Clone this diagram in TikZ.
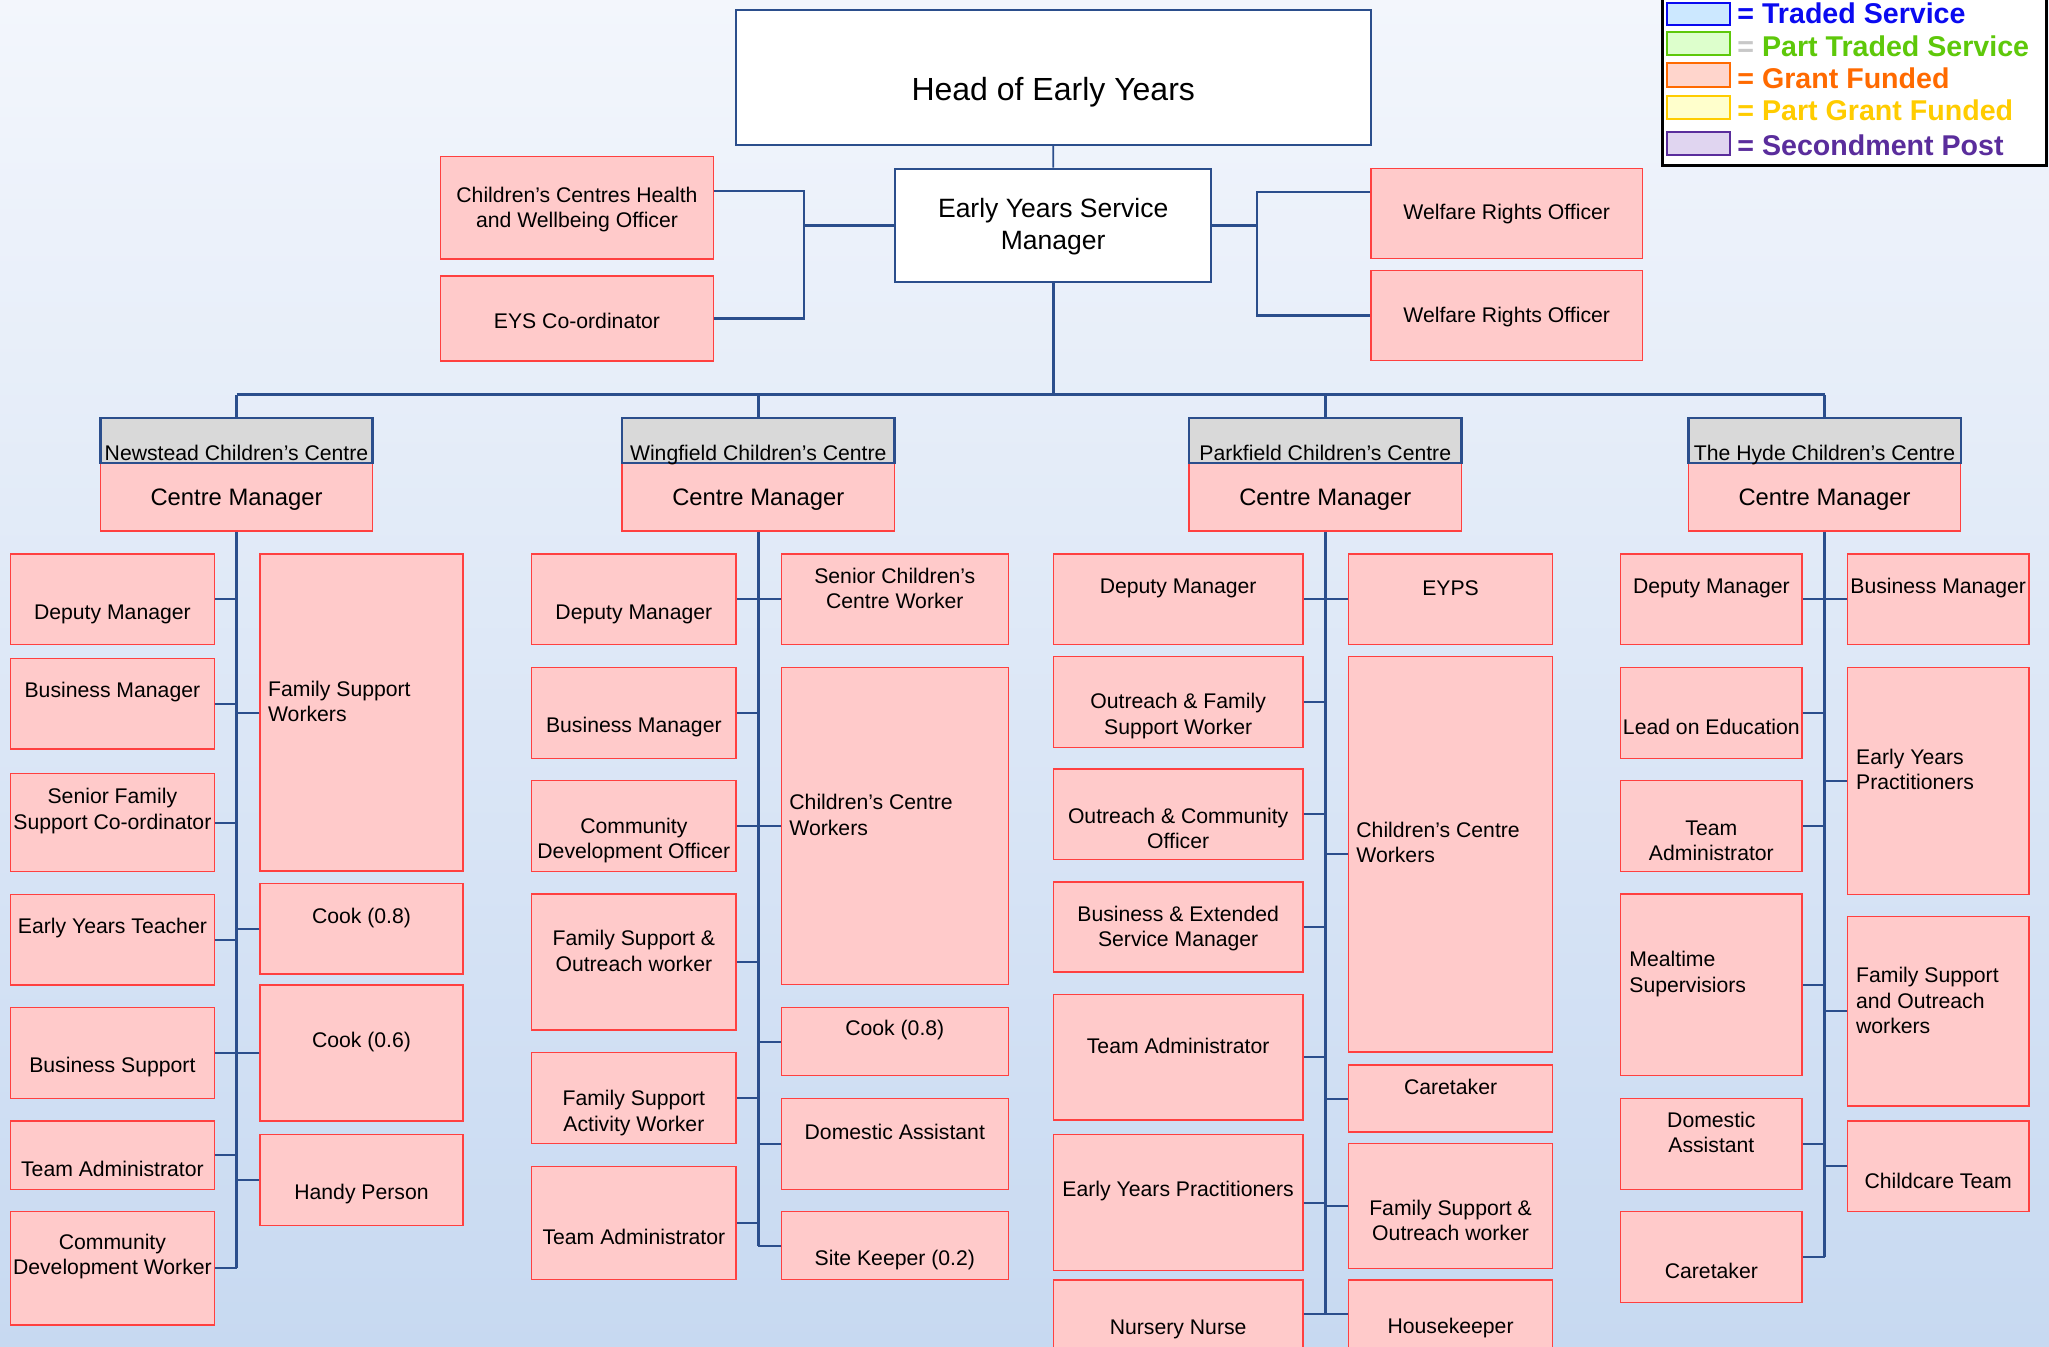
\documentclass[tikz,border=0pt]{standalone}
\usepackage{fontspec}
\setmainfont{Liberation Sans}
\usetikzlibrary{fit}
\definecolor{navy}{HTML}{2B4E8C}
\definecolor{boxred}{HTML}{FF4040}
\definecolor{boxfill}{HTML}{FFCACA}
\definecolor{hdrgray}{HTML}{D9D9D9}
\definecolor{bgtop}{HTML}{F3F6FC}
\definecolor{bgbot}{HTML}{C7D9F1}
\definecolor{tsline}{HTML}{0A0AF0}
\definecolor{tsfill}{HTML}{CCE8FF}
\definecolor{ptline}{HTML}{5EC80A}
\definecolor{ptfill}{HTML}{DDFFCC}
\definecolor{gfline}{HTML}{FF6A00}
\definecolor{gffill}{HTML}{FFD5CC}
\definecolor{pgline}{HTML}{FFCC00}
\definecolor{pgfill}{HTML}{FFFFCC}
\definecolor{spline}{HTML}{5A2D9C}
\definecolor{spfill}{HTML}{E0D5F0}
\definecolor{eqgray}{HTML}{C8C8C8}
\tikzset{
  pbox/.style={draw=boxred, fill=boxfill, line width=0.75pt, inner sep=0pt},
  hdr/.style={draw=navy, fill=hdrgray, line width=1.2pt, inner sep=0pt},
  wbox/.style={draw=navy, fill=white, line width=1pt, inner sep=0pt},
  lbl/.style={inner sep=0pt, yshift=-1.1pt, align=center, font=\fontsize{10.6}{12.65}\selectfont},
  hdrtxt/.style={inner sep=0pt, yshift=-0.5pt, anchor=base, font=\fontsize{10.6}{12.65}\selectfont},
  cmtxt/.style={inner sep=0pt, yshift=-1.1pt, font=\fontsize{11.9}{14}\selectfont},
  spine/.style={draw=navy, line width=1.5pt},
  branch/.style={draw=navy, line width=1pt},
  topline/.style={draw=navy, line width=1.1pt},
  trunk/.style={draw=navy, line width=1.3pt},
  swatch/.style={line width=1pt, inner sep=0pt},
  legt/.style={inner sep=0pt, yshift=-0.6pt, anchor=base west, font=\fontsize{14.3}{17}\selectfont\bfseries}
}
\newcommand{\pinkb}[7]{\node[pbox, fit={(#2,#3) (#4,#5)}] (#1) {};
  \node[lbl] (#1t) at (#1.center |- 0,#6) {#7};}
\newcommand{\pinkl}[8]{\node[pbox, fit={(#2,#3) (#4,#5)}] (#1) {};
  \node[lbl, align=left, anchor=west] (#1t) at (#6,#7) {#8};}
\newcommand{\centrehead}[4]{\node[pbox, fit={(#2,463) (#3,531)}] (cm#1) {};
  \node[hdr, fit={(#2,418) (#3,463)}] (hdr#1) {};
  \node[hdrtxt] (hdr#1t) at (hdr#1.center |- 0,460) {#4};
  \node[cmtxt] (cm#1t) at (cm#1.center) {Centre Manager};}
\newcommand{\brl}[2]{\draw[branch] (#1.east) -- (#1.east -| #2.south);}
\newcommand{\brr}[2]{\draw[branch] (#1.west) -- (#1.west -| #2.south);}
\begin{document}
\begin{tikzpicture}[x=0.5pt,y=-0.5pt]
\useasboundingbox (0,0) rectangle (2049,1347);
\shade[top color=bgtop, bottom color=bgbot] (0,0) rectangle (2049,1347);

% ---------- top ----------
\node[wbox, fit={(735.7,10.5) (1370.8,145)}] (head) {};
\node[inner sep=0pt, yshift=-1.3pt, font=\fontsize{16}{19}\selectfont] (headt) at (head.center |- 0,89.3) {Head of Early Years};
\node[wbox, fit={(895,168.6) (1211.4,282.3)}] (eysm) {};
\node[inner sep=0pt, yshift=-1.1pt, align=center, font=\fontsize{13.25}{15.85}\selectfont] (eysmt) at (eysm.center |- 0,224.2) {Early Years Service\\Manager};
\draw[navy, line width=0.8pt] (head.south) -- (eysm.north);

\pinkb{cch}{440.7}{156.7}{713.3}{259}{207.5}{Children’s Centres Health\\and Wellbeing Officer}
\pinkb{eysc}{440.7}{276}{713.3}{361}{318.3}{EYS Co-ordinator}
\pinkb{wroa}{1370.8}{168.6}{1642.6}{258.7}{211.7}{Welfare Rights Officer}
\pinkb{wrob}{1370.8}{270.5}{1642.6}{360.7}{315}{Welfare Rights Officer}

\coordinate (lj) at (804,191);
\coordinate (rj) at (1257,192);
\draw[topline] (cch.east |- lj) -- (lj) -- (lj |- eysc.east) -- (eysc.east);
\draw[topline] (eysm.west) -- (eysm.west -| lj);
\draw[topline] (wroa.west |- rj) -- (rj) -- (rj |- wrob.west) -- (wrob.west);
\draw[topline] (eysm.east) -- (eysm.east -| rj);

% ---------- centre heads ----------
\centrehead{A}{100.6}{372.4}{Newstead Children’s Centre}
\centrehead{B}{622}{894.5}{Wingfield Children’s Centre}
\centrehead{C}{1189}{1461.5}{Parkfield Children’s Centre}
\centrehead{D}{1688.3}{1960.7}{The Hyde Children’s Centre}

\coordinate (bus) at (1053.2,394.6);
\draw[trunk] (eysm.south) -- (bus);
\draw[trunk] (hdrA.north |- bus) -- (hdrD.north |- bus);
\draw[trunk] (hdrA.north |- bus) -- (hdrA.north);
\draw[trunk] (hdrB.north |- bus) -- (hdrB.north);
\draw[trunk] (hdrC.north |- bus) -- (hdrC.north);
\draw[trunk] (hdrD.north |- bus) -- (hdrD.north);

% ---------- Newstead ----------
\pinkb{dmA}{10.5}{554}{214.3}{644.3}{612}{Deputy Manager}
\pinkb{bmA}{10.5}{658.3}{214.3}{749}{690}{Business Manager}
\pinkb{sfA}{10.5}{773.3}{214.3}{871.7}{808.7}{Senior Family\\Support Co-ordinator}
\pinkb{eyA}{10.5}{894.3}{214.3}{985}{925.7}{Early Years Teacher}
\pinkb{bsA}{10.5}{1007.7}{214.3}{1098.3}{1065}{Business Support}
\pinkb{taA}{10.5}{1121}{214.3}{1189.3}{1166.7}{Team Administrator}
\pinkb{cdA}{10.5}{1211.7}{214.3}{1325}{1254.5}{Community\\Development Worker}
\pinkl{fsA}{260}{554}{463}{871}{267.7}{699}{Family Support\\Workers}
\pinkb{ckA}{260}{883.3}{463}{974}{915.7}{Cook (0.8)}
\pinkb{cxA}{260}{985}{463}{1121}{1040}{Cook (0.6)}
\pinkb{hpA}{260}{1134.3}{463}{1225.3}{1191.7}{Handy Person}
\draw[spine] (cmA.south) -- (cdA.east -| cmA.south);
\brl{dmA}{cmA}\brl{bmA}{cmA}\brl{sfA}{cmA}\brl{eyA}{cmA}\brl{bsA}{cmA}\brl{taA}{cmA}\brl{cdA}{cmA}
\brr{fsA}{cmA}\brr{ckA}{cmA}\brr{cxA}{cmA}\brr{hpA}{cmA}

% ---------- Wingfield ----------
\pinkb{dmB}{531.7}{554}{736}{644.3}{612.3}{Deputy Manager}
\pinkb{bmB}{531.7}{667.3}{736}{758.3}{725}{Business Manager}
\pinkb{cdB}{531.7}{780.7}{736}{871.7}{838.5}{Community\\Development Officer}
\pinkb{foB}{531.7}{894}{736}{1030}{948.8}{Family Support \&\\Outreach worker}
\pinkb{faB}{531.7}{1052.7}{736}{1143.3}{1110.8}{Family Support\\Activity Worker}
\pinkb{taB}{531.7}{1166.7}{736}{1279.3}{1235}{Team Administrator}
\pinkb{scB}{781.3}{554}{1008.3}{644.3}{586}{Senior Children’s\\Centre Worker}
\pinkl{cwB}{781.3}{667.3}{1008.3}{984.3}{789}{812.7}{Children’s Centre\\Workers}
\pinkb{ckB}{781.3}{1007.7}{1008.3}{1075.7}{1028.3}{Cook (0.8)}
\pinkb{daB}{781.3}{1098.3}{1008.3}{1189.3}{1129.3}{Domestic Assistant}
\pinkb{skB}{781.3}{1211.7}{1008.3}{1279.3}{1257.7}{Site Keeper (0.2)}
\draw[spine] (cmB.south) -- (skB.west -| cmB.south);
\brl{dmB}{cmB}\brl{bmB}{cmB}\brl{cdB}{cmB}\brl{foB}{cmB}\brl{faB}{cmB}\brl{taB}{cmB}
\brr{scB}{cmB}\brr{cwB}{cmB}\brr{ckB}{cmB}\brr{daB}{cmB}\brr{skB}{cmB}

% ---------- Parkfield ----------
\pinkb{dmC}{1053.3}{554}{1303}{644.3}{586}{Deputy Manager}
\pinkb{ofC}{1053.3}{656.7}{1303}{747.3}{713.8}{Outreach \& Family\\Support Worker}
\pinkb{ocC}{1053.3}{769}{1303}{859.3}{826}{Outreach \& Community\\Officer}
\pinkb{beC}{1053.3}{882}{1303}{972.2}{926.5}{Business \& Extended\\Service Manager}
\pinkb{taC}{1053.3}{994.5}{1303}{1120}{1044}{Team Administrator}
\pinkb{epC}{1053.3}{1134.3}{1303}{1270.7}{1189.3}{Early Years Practitioners}
\pinkb{nnC}{1053.3}{1280}{1303}{1348}{1326.7}{Nursery Nurse}
\pinkb{ypC}{1348.6}{554}{1552.5}{644.3}{586}{EYPS}
\pinkl{cwC}{1348.6}{656.7}{1552.5}{1052}{1356}{840.5}{Children’s Centre\\Workers}
\pinkb{ctC}{1348.6}{1065}{1552.5}{1132}{1084.6}{Caretaker}
\pinkb{foC}{1348.6}{1143.3}{1552.5}{1268.3}{1218.3}{Family Support \&\\Outreach worker}
\pinkb{hkC}{1348.6}{1280}{1552.5}{1348}{1326}{Housekeeper}
\draw[spine] (cmC.south) -- (nnC.east -| cmC.south);
\brl{dmC}{cmC}\brl{ofC}{cmC}\brl{ocC}{cmC}\brl{beC}{cmC}\brl{taC}{cmC}\brl{epC}{cmC}\brl{nnC}{cmC}
\brr{ypC}{cmC}\brr{cwC}{cmC}\brr{ctC}{cmC}\brr{foC}{cmC}\brr{hkC}{cmC}

% ---------- The Hyde ----------
\pinkb{dmD}{1620.7}{554}{1802}{644.3}{586}{Deputy Manager}
\pinkb{leD}{1620.7}{667.3}{1802}{758.3}{725}{Lead on Education}
\pinkb{taD}{1620.7}{780.7}{1802}{871.7}{838.5}{Team\\Administrator}
\pinkl{msD}{1620.7}{894}{1802}{1075.7}{1629}{971.8}{Mealtime\\Supervisiors}
\pinkb{daD}{1620.7}{1098.3}{1802}{1189.3}{1130.2}{Domestic\\Assistant}
\pinkb{ctD}{1620.7}{1211.7}{1802}{1302.7}{1269}{Caretaker}
\pinkb{bmD}{1847.3}{554}{2029}{644.3}{586}{Business Manager}
\pinkl{epD}{1847.3}{667.3}{2029}{894.3}{1855.7}{767.5}{Early Years\\Practitioners}
\pinkl{foD}{1847.3}{916.7}{2029}{1106}{1855.7}{998.3}{Family Support\\and Outreach\\workers}
\pinkb{ccD}{1847.3}{1121}{2029}{1211.7}{1178.3}{Childcare Team}
\draw[spine] (cmD.south) -- (ctD.east -| cmD.south);
\brl{dmD}{cmD}\brl{leD}{cmD}\brl{taD}{cmD}\brl{msD}{cmD}\brl{daD}{cmD}\brl{ctD}{cmD}
\brr{bmD}{cmD}\brr{epD}{cmD}\brr{foD}{cmD}\brr{ccD}{cmD}

% ---------- legend ----------
\node[draw=black, fill=white, line width=1.5pt, inner sep=0pt, fit={(1662,-10) (2046,166)}] (leg) {};
\node[swatch, draw=tsline, fill=tsfill, fit={(1667.3,2.7) (1730,25)}] (swa) {};
\node[swatch, draw=ptline, fill=ptfill, fit={(1667.3,31.7) (1730,55)}] (swb) {};
\node[swatch, draw=gfline, fill=gffill, fit={(1667.3,63.3) (1730,86.7)}] (swc) {};
\node[swatch, draw=pgline, fill=pgfill, fit={(1667.3,96) (1730,119)}] (swd) {};
\node[swatch, draw=spline, fill=spfill, fit={(1667.3,131.7) (1730,155)}] (swe) {};
\node[legt, text=tsline] (lta) at (1737,22.7) {= Traded Service};
\node[legt, text=ptline] (ltb) at (1737,55) {{\color{eqgray}=} Part Traded Service};
\node[legt, text=gfline] (ltc) at (1737,87.3) {= Grant Funded};
\node[legt, text=pgline] (ltd) at (1737,119) {= Part Grant Funded};
\node[legt, text=spline] (lte) at (1737,154) {= Secondment Post};
\end{tikzpicture}
\end{document}
